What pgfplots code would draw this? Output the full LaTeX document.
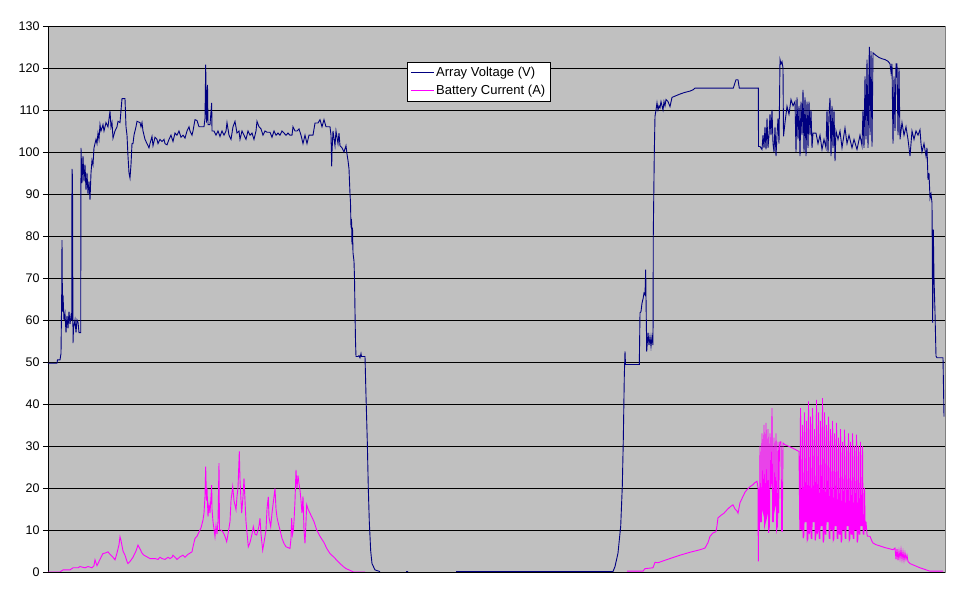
\documentclass[border=0pt]{standalone}
\usepackage{fontspec}
\setmainfont{Liberation Sans}
\usepackage{pgfplots}
\pgfplotsset{compat=1.18}
\definecolor{plotbg}{HTML}{C0C0C0}
\definecolor{frameg}{HTML}{808080}
\definecolor{volt}{HTML}{000080}
\definecolor{amp}{HTML}{FF00FF}
\begin{document}
\begin{tikzpicture}
\useasboundingbox (0,0) rectangle (970pt,604pt);
\begin{axis}[
  at={(48pt,32pt)}, anchor=south west,
  scale only axis, width=897pt, height=546pt,
  xmin=48, xmax=945, ymin=0, ymax=130,
  axis background/.style={fill=plotbg, draw=frameg, line width=0.8pt},
  axis lines*=left, axis line style={-, black, line width=0.9pt},
  xtick=\empty, ytick={0,10,...,130},
  ytick pos=left, tick align=outside, major tick length=5pt,
  tick style={black, line width=0.8pt},
  ymajorgrids, grid style={black, line width=0.8pt},
  /pgf/number format/assume math mode=true,
  tick label style={font=\fontsize{12.5}{14}\selectfont},
  unbounded coords=jump,
  legend style={at={(0.4002,0.9346)}, anchor=north west, draw=black, fill=white,
    line width=0.8pt, font=\fontsize{13}{15}\selectfont, inner sep=3pt,
    row sep=3pt},
  legend cell align=left,
  legend image code/.code={\draw[#1, line width=0.8pt] (0pt,0pt) -- (23pt,0pt);},
]
\addplot[volt, line width=0.9pt] coordinates {
(48,49.7) (57,49.7) (57.5,50.5) (60,50.5) (61,52) (61.7,66) (62,79) (62.5,62) (63,66) (64,60) (65,61.5) (66,57) (67,61) (68,58) (69,62) (70,59) (71,61) (71.7,60) (72,96) (72.5,94) (73,54.5) (73.5,58) (75,60) (76,57) (77,60) (78,59.5) (79,57) (80.7,57)
(81,101) (82,92.6) (83,99) (84,93) (85,97) (86,91) (87,95) (88,90) (89,93) (90,88.6) (91,95) (92,98) (93,97) (94,101) (96,103) (97,102) (98,104.5) (99,103) (100,106.5) (101,105) (103,106.5) (104,105) (106,107) (108,106) (110,109.7) (111,106) (112,107) (113,103.3) (115,105) (117,106) (118,107.3) (120,107) (122,112.7) (125,112.7) (126,106) (127,104) (128,99) (129,95) (130,93.8) (131,97) (132,102) (133,102) (134,104) (136,106) (137,107.3) (140,107) (141,106) (142,107) (143,105) (145,103) (147,102) (149,101) (150,102) (152,103.7) (153,101.5) (155,103.5) (157,103) (158,102) (160,103) (162,102.5) (164,103) (165,102) (167,101.7) (169,103) (171,104) (173,102.5) (175,104.5) (177,104) (179,105) (181,103.5) (183,104) (185,103.3) (187,105) (189,106) (190,105) (192,104) (193,105) (195,107.7) (197,107.5) (199,106) (204,106) (205,108) (205.7,120.8) (206.5,107) (207.5,116) (208,106.5) (210,106.5) (211.7,111.7) (212,105) (214,105) (216,104) (218,105) (220,103.7) (222,105) (224,104) (226,105) (227,107) (229,104) (231,103) (233,106) (235,107.3) (237,104.5) (239,105) (240,103) (242,105) (244,104) (246,103) (248,105) (250,104) (252,104.5) (254,103) (256,105) (257,107.3) (259,106) (261,105.5) (263,104) (265,105) (267,104.7) (270,104.7) (272,103.5) (274,105) (276,104) (278,104.5) (280,104) (282,105) (284,104.5) (286,104) (288,104.5) (290,104) (292,104) (293,106) (295,105) (297,105) (299,105.5) (301,104) (303,102) (305,104) (307,102) (309,104) (311,104) (313,104) (315,106.9) (318,106.9) (320,107.7) (322,106) (324,107.7) (326,106) (328,106) (330,106) (331,104) (331.7,96.6) (332,100) (333,105) (335,101.5) (336,105) (338,102) (339,104.5) (340,101.5) (342,101) (344,100) (346,101.5) (347,99.5) (348,98) (349,96) (350,90) (350.5,88) (351,82) (351.5,84) (352,78) (352.5,82) (353,76) (354,74) (354.5,70) (355,62) (355.5,55) (356,51.3) (358,51.3) (359,51.5) (360,51) (361,52) (361.5,51.3) (365,51.3) (366,42) (367.3,31) (368.3,20) (369.3,12) (370.7,5) (372,2) (375,0.5) (380,0.1)
(390,nan) (406,0.1) (408,0.1) (420,nan)
(456,0.1) (613,0.1) (615,1.3) (618,4.5) (620.7,10.9) (622.3,20.4) (623.3,31.5) (624.3,46.6) (625,52.5) (625.5,49.4) (639.3,49.4) (640,61.7) (641,62) (642,64) (643,65) (644,66.4) (645,66) (645.7,72) (646,65.6) (646.7,52.5) (648,57) (649,54) (650,56) (651,53.7) (652,56) (653,54) (653.3,80.7) (654.3,99.8) (655,108.5) (656,110) (657,111.7) (658,110) (659,111) (660,110.5) (661,112) (662,111) (663,110) (664,112) (665,111) (666,112.5) (668,112) (670,110.8) (672,113) (675,113.3) (680,113.8) (685,114.2) (690,114.5) (693,114.8) (695,115.2) (733.3,115.2) (735,116.5) (736,117.2) (738,117.2) (739.3,115.2) (758.3,115.2)
(758.5,101.3) (760,101.3) (762,100.6) (763,104) (764,101) (765,106) (766,100.6) (767,108) (768,101) (769,104) (770,109) (771,104) (772,110) (773,102) (774,100) (775,106) (776,99) (777,104) (778,108) (779,102) (780,122) (781,121) (782,121.5) (783,120) (783.5,103.7) (785,107) (787,110.9) (789,109) (791,112.5) (793,111) (795,112) (796,100) (797,113) (798,103) (799,111) (800,99) (801,112) (802,104) (803,114.8) (804,100) (805,113) (806,99) (807,112) (808,101) (809,112) (810,104) (811,110) (812,101) (813,104.5) (816,104.5) (818,102) (820,104) (822,100.6) (824,103) (826,101) (827,110) (828,100) (829,109) (830,112.9) (831,99) (832,111) (833,101) (834,110) (835,97.8) (836,105) (838,103) (840,105) (842,101) (845,105.7) (847,102) (849,104) (852,101) (854,103) (857,100.6) (860,104) (862,101.5) (863,110) (864,101) (865,118) (866,103) (867,122) (868,101) (869.3,125) (870,104) (871,124) (872,101.3) (873,123.6) (876,123) (879,122.5) (882,122.2) (885,122) (888,121.6) (890,121) (891,119) (892,121) (893,102) (894,118) (895,105) (896,121) (897,121) (898,104) (899,120) (900,103) (902,107) (904,104) (906,106) (908,103) (910,99) (912,105) (914,103) (916,105) (918,104) (920,105.3) (921,102) (922,100) (924,102) (926,99) (927,101) (928,93.4) (929,95) (930,89) (931,90) (932,87.9) (932.7,59.3) (933.3,81.5) (934,70) (935,61.7) (936,51.4) (937,51) (943,51) (944,37)
};
\addlegendentry{Array Voltage (V)}
\addplot[amp, line width=0.9pt] coordinates {
(48,0) (60,0) (63,0.5) (70,0.5) (73,1) (78,1) (80,1.3) (85,1) (88,1.3) (92,1) (94,1.5) (95,2.9) (97,1.5) (99,2.5) (101,3.5) (103,4.4) (105,4.5) (108,4.8) (110,4.2) (113,3.5) (115,2.9) (117,4.5) (119,6.5) (120,8.4) (121,7.5) (123,5) (125,4) (127,2.5) (128,2) (130,2.5) (133,3.5) (136,5) (138,6.4) (140,5.5) (142,4.5) (144,4) (147,3.6) (150,3.2) (155,3.2) (158,3) (160,3.5) (162,3.2) (165,3) (168,3.5) (170,3.2) (172,3.5) (173,4) (175,3.5) (177,3) (180,3.6) (183,4) (185,3.5) (188,4.2) (190,4.5) (192,4.8) (193,6) (195,8) (197,8.5) (199,9.5) (201,10.5) (203,12.4) (204,14) (205,18) (205.7,25.1) (206.5,17) (207,20) (208,13.2) (209,16) (210,14) (211,18) (211.7,20.7) (212,15) (213,12) (215,8.4) (216,11) (217,9) (218,12) (219,25.9) (219.5,10) (221,10) (223,9.5) (225,8.5) (226.7,7.2) (228,9) (230,12) (231,17) (232.7,20.3) (234,17) (236,14.8) (237,18) (238,20) (239.3,28.7) (240,22) (241,17) (241.7,14) (243,18) (244,22.3) (245,17) (246,12) (248.3,6) (250,7) (252,9) (253.3,10.8) (255,9) (256.7,8.8) (258,10) (259,11) (260,12.8) (261,9) (262.7,5.2) (264,7) (266,10) (267,15) (268.3,17.9) (269,13) (270.7,10.8) (272,14) (273,16) (275,19.9) (276,15) (277,13) (278.3,11.6) (280,10) (282,8) (284,6.8) (286,6) (288,5.8) (290,5.6) (291,8) (291.7,12.8) (292.5,9) (293.3,10) (294,12) (295,17) (296,24.3) (297,20) (298,23) (299,21) (300,19.5) (301,17) (302,14) (303,18) (304,10) (305,6.8) (306,12) (306.7,16) (308,15) (310,14) (312,13) (314,12) (316.7,10) (320,8.5) (324,7) (327,5.5) (330,4.4) (334,3.5) (338,2.5) (341,1.8) (343.3,1.3) (346,0.8) (350,0.4) (353.3,0) (365,0)
(400,nan)
(627,0.2) (643,0.2) (645,0.8) (653,1) (655,2.3) (658,2.2) (665,2.8) (670,3.2) (680,4.0) (690,4.7) (700,5.3) (705,5.7) (708,7) (710,8.5) (713,9.3) (716,9.6) (717,11) (718,12.9) (721,13.5) (724,14) (727,14.8) (730,15.5) (733,16) (735,15) (737,14.5) (738,14) (740,16.5) (743,18) (745,19) (747,19.6) (750,20.3) (753,20.8) (755,21.3) (757,21.6) (758,20) (758.3,2.5) (758.7,20)
(759.5,10) (760,30) (760.6,12) (761.5,12) (762,33) (762.6,15) (763.5,14) (764,35) (764.6,11) (765.5,12) (766,35.5) (766.6,13) (767.5,14) (768,34) (768.6,9.3) (769.5,11) (770,33) (770.6,20) (771.5,22) (772,39) (772.6,12) (773.5,12) (774,32) (774.6,15) (775.5,16) (776,33) (776.6,10) (777.5,11) (778,31) (778.6,14) (779.5,30) (780,31) (781,31) (781.7,9.7) (782.3,9.7) (783,30.7) (785,30.3) (790,29.8) (795,29.2) (799,28.7) (799.8,10)
(800.5,39) (801.2,10) (802,10) (802.5,35) (803.2,8) (804,9) (804.5,38) (805.2,12) (806,12) (806.5,36) (807.2,7.5) (808,8) (808.5,40.6) (809.2,9) (810,10) (810.5,37) (811.2,8) (812,8) (812.5,39) (813.2,12) (814,12) (814.5,34) (815.2,7.5) (816,9) (816.5,41) (817.2,9) (818,10) (818.5,38) (819.2,8) (820,8) (820.5,36) (821.2,11) (822,11) (822.5,41.4) (823.2,7) (824,8) (824.5,38) (825.2,9) (826,9) (826.5,35) (827.2,12) (828,12) (828.5,37) (829.2,8) (830,8) (830.5,34) (831.2,10) (832,10) (832.5,36) (833.2,7.5) (834,8) (834.5,33) (835.2,11) (836,11) (836.5,35.5) (837.2,8) (838,8) (838.5,32) (839.2,9) (840,9) (840.5,34) (841.2,7) (842,8) (842.5,31) (843.2,10) (844,10) (844.5,33.9) (845.2,8) (846,8) (846.5,30) (847.2,11) (848,11) (848.5,33) (849.2,7.5) (850,8) (850.5,31) (851.2,9) (852,9) (852.5,33) (853.2,8) (854,8) (854.5,30) (855.2,10) (856,10) (856.5,32.7) (857.2,7) (858,8) (858.5,30) (859.2,9) (860,9) (860.5,31) (861.2,11) (862,11) (862.5,30) (863.2,9) (864,9) (864.5,20) (865.2,10) (866,12) (867,9) (867.5,8.5) (870,8.5) (872,7.3) (873,6.9) (876,6.5) (880,6.2) (885,5.8) (890,5.5) (893,5.3) (895,5.7) (896,3) (897,5.5) (898,2.8) (899,5) (900,3.2) (901,5.3) (902,3) (903,4.8) (904,2.8) (905,4.5) (906,3) (907,4) (908,2.5) (910,2) (915,1.5) (920,1) (925,0.6) (930,0.2) (943,0.2)
};
\addlegendentry{Battery Current (A)}
\end{axis}
\end{tikzpicture}
\end{document}
